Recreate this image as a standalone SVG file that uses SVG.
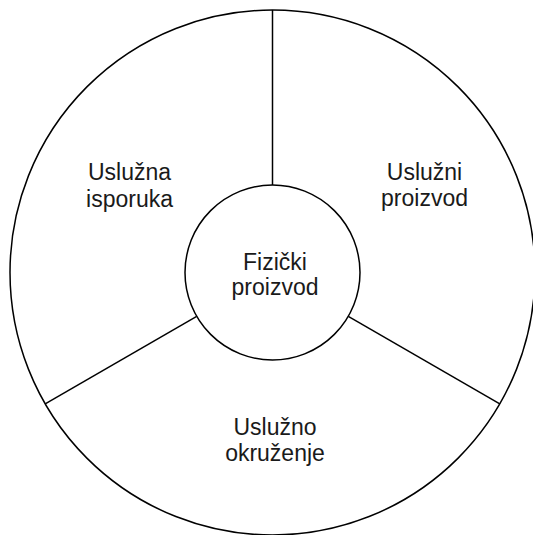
<svg xmlns="http://www.w3.org/2000/svg" width="533" height="535" viewBox="0 0 533 535">
  <style>
    .ring { fill: #ffffff; stroke: #000000; stroke-width: 1.5; }
    .divider { stroke: #000000; stroke-width: 1.5; fill: none; }
    .label { font-family: "Liberation Sans", Arial, Helvetica, sans-serif; font-size: 23px; fill: #1a1a1a; text-anchor: middle; }
  </style>
  <rect width="533" height="535" fill="#ffffff"/>

  <!-- outer ring -->
  <g id="outer-ring">
    <circle class="ring" cx="272.5" cy="272.5" r="262.5"/>
  </g>

  <!-- dividers between the three outer sectors -->
  <g id="connectors">
    <line class="divider" x1="272.5" y1="10" x2="272.5" y2="185"/>
    <line class="divider" x1="45.2" y1="403.8" x2="196.7" y2="316.3"/>
    <line class="divider" x1="499.8" y1="403.8" x2="348.3" y2="316.3"/>
  </g>

  <g id="usluzna-isporuka">
    <text class="label" x="129.5" y="180">Uslužna</text>
    <text class="label" x="129.5" y="207">isporuka</text>
  </g>

  <g id="usluzni-proizvod">
    <text class="label" x="424.5" y="180">Uslužni</text>
    <text class="label" x="424.5" y="206">proizvod</text>
  </g>

  <g id="usluzno-okruzenje">
    <text class="label" x="275" y="435">Uslužno</text>
    <text class="label" x="275" y="461">okruženje</text>
  </g>

  <!-- inner core -->
  <g id="fizicki-proizvod">
    <circle class="ring" cx="272.5" cy="272.5" r="87.5"/>
    <text class="label" x="275" y="270">Fizički</text>
    <text class="label" x="275" y="295">proizvod</text>
  </g>
</svg>
